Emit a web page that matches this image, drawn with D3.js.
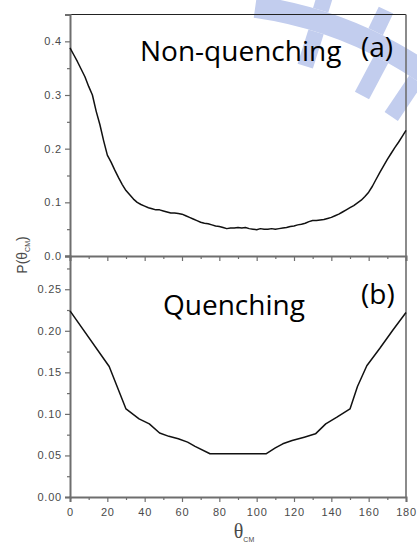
<!DOCTYPE html>
<html>
<head>
<meta charset="utf-8">
<script src="https://cdn.jsdelivr.net/npm/d3@7"></script>
<style>
  html, body { margin: 0; padding: 0; background: #fff; }
  svg { display: block; }
  .tick text { font-family: "Liberation Sans", Arial, sans-serif; font-size: 11px; fill: #4a4a4a; letter-spacing: 0.8px; }
</style>
</head>
<body>
<svg id="chart" width="417" height="544"></svg>
<script>
// Angular distribution P(theta_CM), non-quenching (a)
const nqTheta = [0,2,4,6,8,10,12,14,16,18,20,22,24,26,28,30,32,34,36,38,40,42,44,46,48,50,52,54,56,58,60,62,64,66,68,70,72,74,76,78,80,82,84,86,88,90,92,94,96,98,100,102,104,106,108,110,112,114,116,118,120,122,124,126,128,130,132,134,136,138,140,142,144,146,148,150,152,154,156,158,160,162,164,166,168,170,172,174,176,178,180];
const nqP = [0.388,0.375,0.362,0.348,0.334,0.316,0.300,0.270,0.245,0.215,0.188,0.175,0.160,0.146,0.133,0.122,0.114,0.106,0.100,0.096,0.093,0.090,0.088,0.086,0.086,0.084,0.082,0.080,0.080,0.079,0.078,0.075,0.072,0.069,0.066,0.063,0.061,0.060,0.058,0.056,0.055,0.053,0.051,0.052,0.052,0.053,0.052,0.053,0.051,0.050,0.049,0.051,0.050,0.050,0.051,0.050,0.051,0.052,0.053,0.055,0.056,0.058,0.059,0.061,0.064,0.066,0.066,0.067,0.068,0.070,0.072,0.075,0.078,0.082,0.086,0.090,0.094,0.099,0.104,0.111,0.119,0.130,0.143,0.156,0.168,0.180,0.191,0.202,0.212,0.223,0.234];

// Angular distribution P(theta_CM), quenching (b)
const qTheta = [0,21,30,37,42.5,48,53,58,63,67,75,105,110,114,119,125.5,131.5,137,143,150,154,159,166,173,180];
const qP = [0.224,0.157,0.106,0.094,0.088,0.077,0.073,0.070,0.066,0.061,0.052,0.052,0.059,0.064,0.068,0.072,0.076,0.088,0.096,0.106,0.133,0.158,0.179,0.201,0.222];

// Axis ticks
const xMajor = [0,20,40,60,80,100,120,140,160,180];
const xMinor = [10,30,50,70,90,110,130,150,170];
const yTopMajor = [0,0.1,0.2,0.3,0.4];
const yTopMinor = [0.05,0.15,0.25,0.35,0.45];
const yBotMajor = [0,0.05,0.10,0.15,0.20,0.25];
const yBotMinor = [0.025,0.075,0.125,0.175,0.225,0.275];

const panelLabels = ["Non-quenching", "Quenching"];
const panelTags = ["(a)", "(b)"];

const svg = d3.select("#chart");
const axisColor = "#6e6e6e";

// Scales
const x = d3.scaleLinear().domain([0, 180]).range([70, 406]);
const yTop = d3.scaleLinear().domain([0, 0.45]).range([256, 14.5]);
const yBot = d3.scaleLinear().domain([0, 0.29]).range([497, 256]);

// Watermark emblem behind the plot: a ring segment with radial teeth
const wm = svg.append("g").attr("transform", "translate(200,400)").attr("fill", "#c2cdee");
wm.append("path").attr("d", d3.arc()({innerRadius: 386, outerRadius: 408,
  startAngle: 8 * Math.PI / 180, endAngle: 50 * Math.PI / 180}));
[[17.5, 350, 386], [28, 345, 386], [34, 342, 386], [17.2, 408, 425], [25.5, 408, 432]].forEach(([a, r0, r1]) => {
  wm.append("rect")
    .attr("x", -8).attr("y", -r1).attr("width", 16).attr("height", r1 - r0)
    .attr("transform", `rotate(${a})`);
});

// Frame lines
svg.append("line").attr("x1", 70).attr("x2", 406).attr("y1", 14.5).attr("y2", 14.5)
  .attr("stroke", "#222").attr("stroke-width", 1);
svg.append("line").attr("x1", 406).attr("x2", 406).attr("y1", 14.5).attr("y2", 497)
  .attr("stroke", axisColor).attr("stroke-width", 1.6);

function styleAxis(g) {
  g.select(".domain").attr("stroke", axisColor).attr("stroke-width", 2);
  g.selectAll(".tick line").attr("stroke", axisColor).attr("stroke-width", 1.2);
}

// Top panel axes
svg.append("g").attr("transform", "translate(70,0)")
  .call(d3.axisLeft(yTop).tickValues(yTopMajor).tickSize(5).tickPadding(3).tickFormat(d3.format(".1f")))
  .call(styleAxis);
svg.append("g").attr("transform", "translate(70,0)")
  .call(d3.axisLeft(yTop).tickValues(yTopMinor).tickSize(3).tickFormat(""))
  .call(styleAxis).call(g => g.select(".domain").remove());
svg.append("g").attr("transform", "translate(0,256)")
  .call(d3.axisBottom(x).tickValues(xMajor).tickSize(5).tickFormat(""))
  .call(styleAxis);
svg.append("g").attr("transform", "translate(0,256)")
  .call(d3.axisBottom(x).tickValues(xMinor).tickSize(3).tickFormat(""))
  .call(styleAxis).call(g => g.select(".domain").remove());

// Bottom panel axes
svg.append("g").attr("transform", "translate(70,0)")
  .call(d3.axisLeft(yBot).tickValues(yBotMajor).tickSize(5).tickPadding(3).tickFormat(d3.format(".2f")))
  .call(styleAxis);
svg.append("g").attr("transform", "translate(70,0)")
  .call(d3.axisLeft(yBot).tickValues(yBotMinor).tickSize(3).tickFormat(""))
  .call(styleAxis).call(g => g.select(".domain").remove());
svg.append("g").attr("transform", "translate(0,497)")
  .call(d3.axisBottom(x).tickValues(xMajor).tickSize(5).tickPadding(6).tickFormat(d3.format("d")))
  .call(styleAxis);
svg.append("g").attr("transform", "translate(0,497)")
  .call(d3.axisBottom(x).tickValues(xMinor).tickSize(3).tickFormat(""))
  .call(styleAxis).call(g => g.select(".domain").remove());

// Curves
const lineTop = d3.line().x((d, i) => x(nqTheta[i])).y(d => yTop(d));
const lineBot = d3.line().x((d, i) => x(qTheta[i])).y(d => yBot(d));
svg.append("path").attr("d", lineTop(nqP)).attr("fill", "none")
  .attr("stroke", "#111").attr("stroke-width", 1.5).attr("stroke-linejoin", "round");
svg.append("path").attr("d", lineBot(qP)).attr("fill", "none")
  .attr("stroke", "#111").attr("stroke-width", 1.5).attr("stroke-linejoin", "round");

// Panel annotations
const annFont = "'Open Sans', 'Noto Sans', sans-serif";
svg.append("text").attr("x", 140).attr("y", 61).text(panelLabels[0])
  .attr("font-family", annFont).attr("font-size", 28).attr("fill", "#000");
svg.append("text").attr("x", 361).attr("y", 57).text(panelTags[0])
  .attr("font-family", annFont).attr("font-size", 28).attr("fill", "#000");
svg.append("text").attr("x", 163).attr("y", 315).text(panelLabels[1])
  .attr("font-family", annFont).attr("font-size", 28).attr("fill", "#000");
svg.append("text").attr("x", 361).attr("y", 304).text(panelTags[1])
  .attr("font-family", annFont).attr("font-size", 28).attr("fill", "#000");

// Axis titles
const yTitle = svg.append("text")
  .attr("transform", "translate(27,255) rotate(-90)")
  .attr("text-anchor", "middle")
  .attr("font-family", "'Liberation Sans', Arial, sans-serif")
  .attr("font-size", 14).attr("fill", "#4a4a4a");
yTitle.append("tspan").text("P(θ");
yTitle.append("tspan").text("CM").attr("font-size", 7).attr("dy", 3);
yTitle.append("tspan").text(")").attr("dy", -3);

const xTitle = svg.append("text")
  .attr("x", 244).attr("y", 538)
  .attr("text-anchor", "middle")
  .attr("fill", "#4a4a4a");
xTitle.append("tspan").text("θ").attr("font-family", "'Liberation Serif', serif").attr("font-size", 20);
xTitle.append("tspan").text("CM").attr("font-family", "'Liberation Sans', Arial, sans-serif")
  .attr("font-size", 7).attr("dy", 4);
</script>
</body>
</html>
